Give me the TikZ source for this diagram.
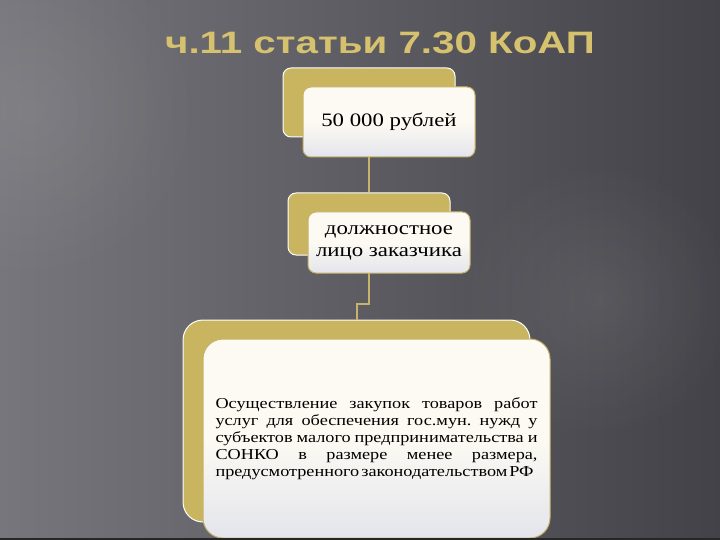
\documentclass[tikz,border=0pt]{standalone}
\usepackage{fontspec}
\setmainfont{Liberation Serif}
\newfontfamily\titlefont[FakeStretch=1.3]{Liberation Sans}
\newfontfamily\boxfont[FakeStretch=1.2]{Liberation Serif}
\usetikzlibrary{fadings}
\frenchspacing

\definecolor{bgleft}{RGB}{118,118,124}
\definecolor{bgmid}{RGB}{92,92,98}
\definecolor{bgright}{RGB}{66,66,72}
\definecolor{tanfill}{RGB}{201,180,96}
\definecolor{creamtop}{RGB}{252,250,242}
\definecolor{creambottom}{RGB}{228,229,237}
\definecolor{linktan}{RGB}{198,178,104}
\definecolor{titlegold}{RGB}{214,194,110}

\tikzfading[name=softspot, inner color=transparent!0, outer color=transparent!100]

\begin{document}
\begin{tikzpicture}[x=1pt,y=-1pt,
  backbox/.style={fill=tanfill, draw=white, line width=1pt, rounded corners=8pt},
  frontbox/.style={top color=creamtop, bottom color=creambottom, middle color=creamtop,
    draw=linktan, line width=1pt, rounded corners=8pt, inner sep=0pt},
  link/.style={draw=linktan, line width=2pt},
  titletext/.style={font=\titlefont\bfseries\fontsize{31}{36}\selectfont, anchor=base}]
\useasboundingbox (0,0) rectangle (720,540);

% background
\shade[left color=bgleft, middle color=bgmid, right color=bgright] (0,0) rectangle (720,540);
\fill[white, opacity=0.08, path fading=softspot] (600,300) circle (140);
\fill[white, opacity=0.08, path fading=softspot] (30,110) circle (170);

% title
\node[titletext, text=titlegold] (title) at (380,54) {ч.11 статьи 7.30 КоАП};

% back boxes
\node[backbox, minimum width=172pt, minimum height=69pt] (tan1) at (369,102.5) {};
\node[backbox, minimum width=162pt, minimum height=62pt] (tan2) at (369,224) {};
\node[backbox, rounded corners=20pt, minimum width=347pt, minimum height=202pt] (tan3) at (356.5,421) {};

% connectors
\draw[link] (tan1.south) -- (tan2.north);
\draw[link] (tan2.south) -- ++(0,48) -| (tan3.north);

% front boxes
\node[frontbox, minimum width=172pt, minimum height=70pt,
  font=\boxfont\fontsize{19}{23}\selectfont] (amount) at (389,122) {50 000 рублей};
\node[frontbox, minimum width=162pt, minimum height=61pt, align=center,
  font=\boxfont\fontsize{19}{22}\selectfont] (official) at (389,242.5) {должностное\\лицо заказчика};
\node[frontbox, rounded corners=20pt, minimum width=347pt, minimum height=199pt,
  text width=322pt, align=justify, font=\boxfont\fontsize{15.2}{17}\selectfont\frenchspacing] (offence) at (376.5,438.5)
  {Осуществление закупок товаров работ\linebreak
   услуг для обеспечения гос.мун. нужд у\linebreak
   субъектов малого предпринимательства и\linebreak
   СОНКО в размере менее размера,\linebreak
   \mbox{предусмотренного\hspace{2pt}законодательством\hspace{2pt}РФ}};

\fill[black!85] (0,538) rectangle (720,540);
\end{tikzpicture}
\end{document}
